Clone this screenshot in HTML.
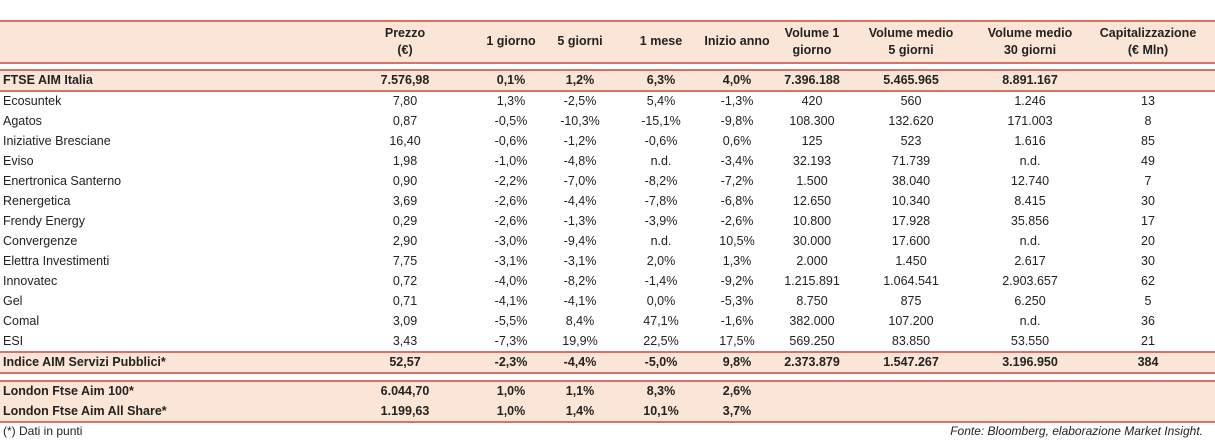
<!DOCTYPE html>
<html><head><meta charset="utf-8"><style>
body{margin:0;width:1215px;height:443px;background:#fff;font-family:"Liberation Sans",sans-serif;font-size:12.5px;color:#222;position:relative;overflow:hidden}
.bg{position:absolute;left:0;width:1215px;background:#fbe5d6}
.ln{position:absolute;left:0;width:1215px;height:2px;background:#d9736a}
.r{position:absolute;left:0;width:1215px;height:20px;line-height:20px}
.r span{position:absolute;top:0;white-space:nowrap;transform:translateX(-50%)}
.r span.n{transform:none;left:3px}
.b{font-weight:bold}
.h{position:absolute;font-weight:bold;text-align:center;line-height:17px;transform:translateX(-50%);white-space:nowrap}
</style></head><body>
<div class="bg" style="top:21px;height:41px"></div>
<div class="bg" style="top:70px;height:20px"></div>
<div class="bg" style="top:352px;height:20px"></div>
<div class="bg" style="top:381px;height:40px"></div>
<div class="ln" style="top:20px"></div>
<div class="ln" style="top:62px"></div>
<div class="ln" style="top:69px"></div>
<div class="ln" style="top:90px"></div>
<div class="ln" style="top:351px"></div>
<div class="ln" style="top:372px"></div>
<div class="ln" style="top:380px"></div>
<div class="ln" style="top:421px"></div>
<div id="hdr"></div><div id="rows"></div>
<div style="position:absolute;left:3px;top:424px;font-size:12px">(*) Dati in punti</div>
<div style="position:absolute;right:12px;top:424px;font-size:12px;font-style:italic">Fonte: Bloomberg, elaborazione Market Insight.</div>
<script>
const cols=[405,511,580,661,737,812,911,1030,1148];
const headers=["Prezzo<br>(€)","1 giorno","5 giorni","1 mese","Inizio anno","Volume 1<br>giorno","Volume medio<br>5 giorni","Volume medio<br>30 giorni","Capitalizzazione<br>(€ Mln)"];
const rows=[
["FTSE AIM Italia","7.576,98","0,1%","1,2%","6,3%","4,0%","7.396.188","5.465.965","8.891.167",""],
["Ecosuntek","7,80","1,3%","-2,5%","5,4%","-1,3%","420","560","1.246","13"],
["Agatos","0,87","-0,5%","-10,3%","-15,1%","-9,8%","108.300","132.620","171.003","8"],
["Iniziative Bresciane","16,40","-0,6%","-1,2%","-0,6%","0,6%","125","523","1.616","85"],
["Eviso","1,98","-1,0%","-4,8%","n.d.","-3,4%","32.193","71.739","n.d.","49"],
["Enertronica Santerno","0,90","-2,2%","-7,0%","-8,2%","-7,2%","1.500","38.040","12.740","7"],
["Renergetica","3,69","-2,6%","-4,4%","-7,8%","-6,8%","12.650","10.340","8.415","30"],
["Frendy Energy","0,29","-2,6%","-1,3%","-3,9%","-2,6%","10.800","17.928","35.856","17"],
["Convergenze","2,90","-3,0%","-9,4%","n.d.","10,5%","30.000","17.600","n.d.","20"],
["Elettra Investimenti","7,75","-3,1%","-3,1%","2,0%","1,3%","2.000","1.450","2.617","30"],
["Innovatec","0,72","-4,0%","-8,2%","-1,4%","-9,2%","1.215.891","1.064.541","2.903.657","62"],
["Gel","0,71","-4,1%","-4,1%","0,0%","-5,3%","8.750","875","6.250","5"],
["Comal","3,09","-5,5%","8,4%","47,1%","-1,6%","382.000","107.200","n.d.","36"],
["ESI","3,43","-7,3%","19,9%","22,5%","17,5%","569.250","83.850","53.550","21"],
["Indice AIM Servizi Pubblici*","52,57","-2,3%","-4,4%","-5,0%","9,8%","2.373.879","1.547.267","3.196.950","384"],
["London Ftse Aim 100*","6.044,70","1,0%","1,1%","8,3%","2,6%","","","",""],
["London Ftse Aim All Share*","1.199,63","1,0%","1,4%","10,1%","3,7%","","","",""]];
const tops=[70,91,111,131,151,171,191,211,231,251,271,291,311,331,352,381,401];
const hdr=document.getElementById('hdr');
headers.forEach((h,i)=>{const d=document.createElement('div');d.className='h';


d.style.left=cols[i]+'px';d.style.top=(h.includes('<br>')?25:33)+'px';d.innerHTML=h;hdr.appendChild(d);});
const R=document.getElementById('rows');
rows.forEach((r,ri)=>{const d=document.createElement('div');d.className='r'+([0,14,15,16].includes(ri)?' b':'');


d.style.top=tops[ri]+'px';
r.forEach((v,ci)=>{const s=document.createElement('span');


if(ci===0)s.className='n';else s.style.left=cols[ci-1]+'px';s.textContent=v;d.appendChild(s);});
R.appendChild(d);});
</script>
</body></html>
